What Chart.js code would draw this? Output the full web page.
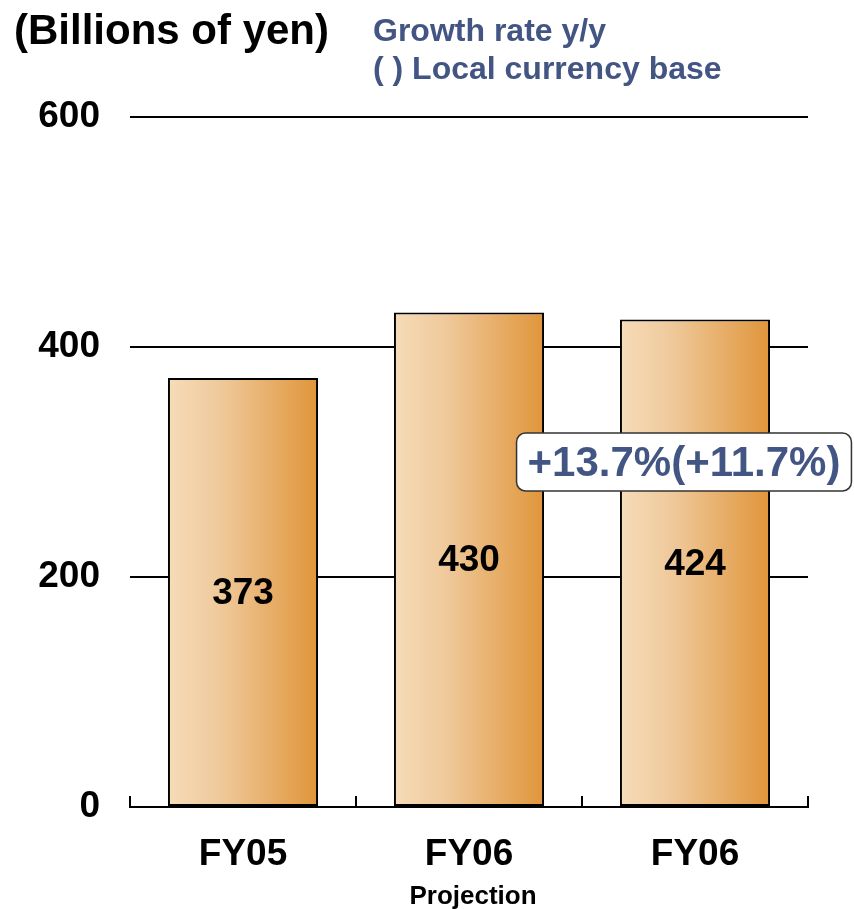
<!DOCTYPE html>
<html>
<head>
<meta charset="utf-8">
<script src="https://cdn.jsdelivr.net/npm/chart.js@4/dist/chart.umd.min.js"></script>
<style>
  html, body { margin: 0; padding: 0; background: #fff; }
</style>
</head>
<body>
<canvas id="myChart" width="854" height="909"></canvas>
<script>
// data
const categories = ['FY05', 'FY06', 'FY06'];
const sales = [373, 430, 424];
const yTicks = [0, 200, 400, 600];
const subLabel = 'Projection';
const growthText = '+13.7%(+11.7%)';

const FONT = "'Liberation Sans', Arial, sans-serif";
const BLUE = '#425583';
const BAR_PCT = 0.664;

// headings, value labels, callout, upward axis ticks
const decor = {
  id: 'decor',
  afterDatasetsDraw(chart) {
    const ctx = chart.ctx;
    const x = chart.scales.x, y = chart.scales.y;
    ctx.save();
    // small ticks on the zero line
    ctx.strokeStyle = '#000';
    ctx.lineWidth = 2;
    for (let i = 0; i <= categories.length; i++) {
      const px = Math.round(x.getPixelForValue(i - 0.5));
      ctx.beginPath();
      ctx.moveTo(px, y.bottom);
      ctx.lineTo(px, y.bottom - 11);
      ctx.stroke();
    }
    // values in the middle of each bar
    ctx.fillStyle = '#000';
    ctx.font = 'bold 37px ' + FONT;
    ctx.textAlign = 'center';
    ctx.textBaseline = 'middle';
    chart.getDatasetMeta(0).data.forEach((bar, i) => {
      ctx.fillText(String(sales[i]), bar.x, (bar.y + bar.base) / 2 + 2);
    });
    // growth callout
    ctx.font = 'bold 42px ' + FONT;
    const tw = ctx.measureText(growthText).width;
    const cx = x.getPixelForValue(2) - 11;
    const cy = y.getPixelForValue(300);
    const w = tw + 22, h = 58;
    ctx.beginPath();
    ctx.roundRect(cx - w / 2, cy - h / 2, w, h, 9);
    ctx.fillStyle = '#fff';
    ctx.fill();
    ctx.strokeStyle = '#333';
    ctx.lineWidth = 1.5;
    ctx.stroke();
    ctx.fillStyle = BLUE;
    ctx.fillText(growthText, cx, cy + 2);
    // "Projection" under the second category
    ctx.fillStyle = '#000';
    ctx.font = 'bold 26px ' + FONT;
    ctx.textBaseline = 'alphabetic';
    ctx.fillText(subLabel, x.getPixelForValue(1) + 4, 904);
    ctx.restore();
  },
  afterDraw(chart) {
    const ctx = chart.ctx;
    ctx.save();
    ctx.textBaseline = 'alphabetic';
    ctx.textAlign = 'left';
    ctx.fillStyle = '#000';
    ctx.font = 'bold 42px ' + FONT;
    ctx.fillText('(Billions of yen)', 14, 44);
    ctx.fillStyle = BLUE;
    ctx.font = 'bold 32px ' + FONT;
    ctx.fillText('Growth rate y/y', 373, 41);
    ctx.fillText('( ) Local currency base', 373, 79);
    ctx.restore();
  }
};

const ctx = document.getElementById('myChart').getContext('2d');
const myChart = new Chart(ctx, {
  type: 'bar',
  data: {
    labels: categories,
    datasets: [{
      data: sales,
      borderColor: '#000',
      borderWidth: 2,
      borderSkipped: false,
      barPercentage: BAR_PCT,
      categoryPercentage: 1,
      backgroundColor(c) {
        const chart = c.chart;
        const x = chart.scales.x;
        if (!chart.chartArea || !x || c.dataIndex === undefined) return '#e8b070';
        const mid = x.getPixelForValue(c.dataIndex);
        const half = (x.width / categories.length) * BAR_PCT / 2;
        const g = chart.ctx.createLinearGradient(mid - half, 0, mid + half, 0);
        g.addColorStop(0, '#f6dcb8');
        g.addColorStop(0.35, '#efc99b');
        g.addColorStop(1, '#e0953a');
        return g;
      }
    }]
  },
  options: {
    responsive: false,
    animation: false,
    layout: { padding: { top: 117, right: 46, left: 0, bottom: 0 } },
    plugins: {
      legend: { display: false },
      tooltip: { enabled: false }
    },
    scales: {
      x: {
        grid: { display: false },
        border: { display: true, color: '#000', width: 2 },
        ticks: {
          color: '#000',
          padding: 18,
          font: { family: FONT, size: 37, weight: 'bold' }
        },
        afterFit(s) { s.height = 102; }
      },
      y: {
        min: 0,
        max: 600,
        afterBuildTicks(s) { s.ticks = yTicks.map(v => ({ value: v })); },
        grid: { color: '#000', lineWidth: 2, drawTicks: false },
        border: { display: false },
        ticks: {
          color: '#000',
          padding: 30,
          font: { family: FONT, size: 37, weight: 'bold' }
        },
        afterFit(s) { s.width = 130; }
      }
    }
  },
  plugins: [decor]
});
</script>
</body>
</html>
